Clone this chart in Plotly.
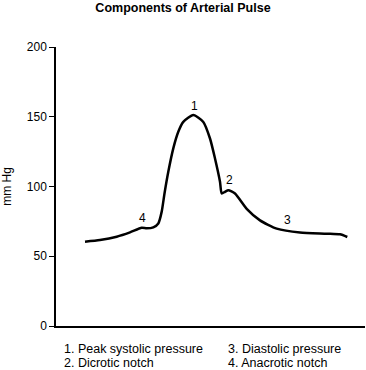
import plotly.graph_objects as go

# Time (arbitrary units) and pressure (mm Hg)
time_pts = [29, 44, 60.7, 74, 85.7, 90.7, 97.3, 102.3, 105.7, 108.5, 112.3, 117.3,
            122.3, 127.3, 137.3, 147.3, 154, 159, 164, 165.7, 169, 172.3, 179,
            190.7, 204, 220.7, 244, 270.7, 284, 291.3]
pressure = [60.4, 61.6, 64, 67.1, 70.4, 70, 70.7, 73.5, 82, 95, 110.5, 127.3,
            139.2, 146.3, 151.2, 146.3, 134.4, 120.1, 103.4, 95, 96.2, 97.4, 95,
            84, 75.7, 69.8, 67, 66.2, 65.7, 63.8]

marker_labels = ["1", "2", "3", "4"]
marker_x = [138.3, 173.3, 231.7, 86.3]
marker_y = [158, 104.5, 75.7, 77.5]

legend_lines = ["1. Peak systolic pressure", "2. Dicrotic notch",
                "3. Diastolic pressure", "4. Anacrotic notch"]

y_ticks = [0, 50, 100, 150, 200]

FONT = "Arial, Liberation Sans, Helvetica, sans-serif"

W, H = 366, 370
PL, PR, PT, PB = 56, 365, 47, 326  # plot area in window pixels

fig = go.Figure()
fig.add_trace(go.Scatter(x=time_pts, y=pressure, mode="lines",
                         line=dict(color="black", width=2.5, shape="spline", smoothing=0.6),
                         hoverinfo="skip", showlegend=False))

for lab, xv, yv in zip(marker_labels, marker_x, marker_y):
    fig.add_annotation(x=xv, y=yv, text=lab, showarrow=False,
                       font=dict(family=FONT, size=12, color="black"))

# legend text below the chart
leg_pos = [(62, 349), (62, 363), (226, 349), (226, 363)]
for txt, (px, py) in zip(legend_lines, leg_pos):
    fig.add_annotation(x=(px - PL) / (PR - PL), y=(PB - py) / (PB - PT),
                       xref="paper", yref="paper",
                       xanchor="left", yanchor="middle", text=txt, showarrow=False,
                       font=dict(family=FONT, size=12.5, color="black"))

fig.update_layout(
    width=W, height=H,
    margin=dict(l=PL, r=W - PR, t=PT, b=H - PB, autoexpand=False),
    plot_bgcolor="white", paper_bgcolor="white",
    title=dict(text="<b>Components of Arterial Pulse</b>", x=183 / W, xanchor="center",
               xref="container", yref="container",
               y=1 - 8 / H, yanchor="middle",
               font=dict(family=FONT, size=12.5, color="black")),
    xaxis=dict(range=[0, 309], showgrid=False, zeroline=False, showline=True,
               linecolor="black", linewidth=2, showticklabels=False, ticks=""),
    yaxis=dict(range=[0, 200], tickvals=y_ticks, showgrid=False, zeroline=False,
               showline=True, linecolor="black", linewidth=1.5, ticks="outside",
               ticklen=5, tickwidth=1, tickcolor="black",
               tickfont=dict(family=FONT, size=12, color="black"),
               title=dict(text="mm Hg", standoff=14,
                          font=dict(family=FONT, size=12, color="black"))),
    font=dict(family=FONT),
)
fig.update_yaxes(automargin=False)

# remove the browser's default 8px page margin so the figure fills the window
fig.write_html("out.html", config={"displayModeBar": False},
               post_script="document.body.style.margin='0';")
